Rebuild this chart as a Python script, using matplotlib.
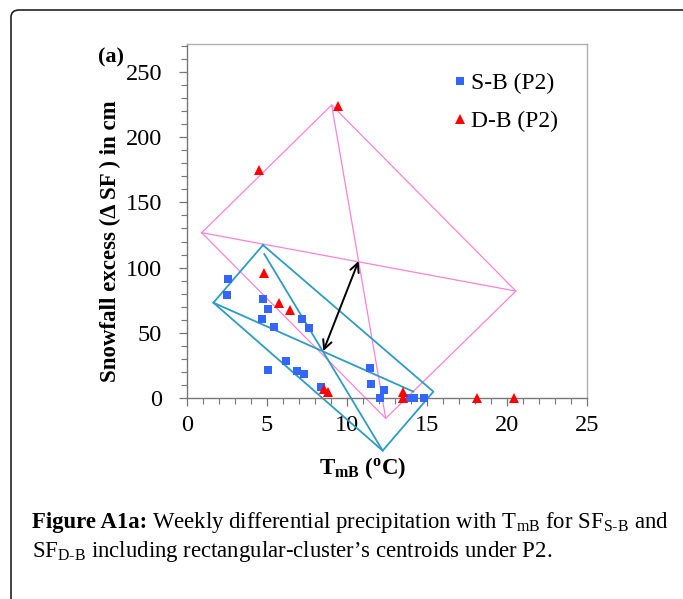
import matplotlib
matplotlib.use("Agg")
import matplotlib.pyplot as plt
from matplotlib.lines import Line2D
from matplotlib.patches import FancyBboxPatch
from matplotlib.ticker import MultipleLocator

plt.rcParams['font.family'] = ['Liberation Serif', 'DejaVu Serif']
plt.rcParams['mathtext.fontset'] = 'custom'
plt.rcParams['mathtext.rm'] = 'Liberation Serif'
plt.rcParams['mathtext.it'] = 'Liberation Serif:italic'
plt.rcParams['mathtext.bf'] = 'Liberation Serif:bold'

# ---- data ----
sb_x = [2.58, 2.52, 4.73, 5.06, 4.71, 5.46, 7.19, 7.65, 6.19, 5.06, 6.85, 7.31,
        8.35, 11.44, 11.5, 12.31, 12.06, 13.94, 14.2, 14.79]
sb_y = [91.3, 78.7, 75.7, 68.5, 60.6, 54.4, 60.6, 53.4, 28.6, 21.5, 20.7, 18.4,
        8.7, 22.7, 10.5, 6.1, 0, 0, 0, 0]
db_x = [4.5, 9.42, 4.83, 5.75, 6.44, 8.56, 8.83, 13.48, 13.52, 18.1, 20.44]
db_y = [174.8, 223.9, 95.6, 72.6, 67.5, 6.6, 4.6, 4.9, 0, 0, 0]

# D-B cluster quadrilateral (left, top, right, bottom) and its diagonals
db_quad_x = [0.92, 9.04, 20.56, 12.42]
db_quad_y = [126.8, 224.7, 82.0, -15.6]
# S-B cluster rectangle (top, right, bottom, left)
sb_rect_x = [4.75, 15.4, 12.23, 1.65]
sb_rect_y = [117.3, 4.9, -40.4, 73.1]
sb_diag1_x = [4.83, 12.23]
sb_diag1_y = [110.4, -40.4]
sb_diag2_x = [1.65, 14.15]
sb_diag2_y = [73.1, 4.9]
# arrow between centroids
arrow_from = (8.52, 36.0)
arrow_to = (10.72, 105.0)

x_ticks = [0, 5, 10, 15, 20, 25]
y_ticks = [0, 50, 100, 150, 200, 250]

W, H = 683, 599
fig = plt.figure(figsize=(W / 100, H / 100), dpi=100)

# outer rounded frame
box = FancyBboxPatch((11 / W, 1 - 640 / H), 700 / W, 630 / H,
                     boxstyle="round,pad=0,rounding_size=0.012",
                     transform=fig.transFigure, fill=False,
                     edgecolor='#222222', linewidth=1.2)
fig.patches.append(box)

ax = fig.add_axes([187 / W, 1 - 398 / H, 400 / W, 354 / H])
ax.set_xlim(0, 25)
ax.set_ylim(0, 271.5)

pink = '#ff80d8'
cyan = '#2b9dc4'
# pink quadrilateral
qx = db_quad_x + [db_quad_x[0]]
qy = db_quad_y + [db_quad_y[0]]
ax.plot(qx, qy, color=pink, lw=0.9, clip_on=False, zorder=2)
ax.plot([db_quad_x[0], db_quad_x[2]], [db_quad_y[0], db_quad_y[2]], color=pink, lw=0.9, clip_on=False, zorder=2)
ax.plot([db_quad_x[1], db_quad_x[3]], [db_quad_y[1], db_quad_y[3]], color=pink, lw=0.9, clip_on=False, zorder=2)
# cyan rectangle
rx = sb_rect_x + [sb_rect_x[0]]
ry = sb_rect_y + [sb_rect_y[0]]
ax.plot(rx, ry, color=cyan, lw=1.3, clip_on=False, zorder=2)
ax.plot(sb_diag1_x, sb_diag1_y, color=cyan, lw=1.3, clip_on=False, zorder=2)
ax.plot(sb_diag2_x, sb_diag2_y, color=cyan, lw=1.3, clip_on=False, zorder=2)

ax.annotate('', xy=arrow_to, xytext=arrow_from,
            arrowprops=dict(arrowstyle='<->', color='black', lw=1.4,
                            mutation_scale=16, shrinkA=0, shrinkB=0), zorder=4)

ax.plot(sb_x, sb_y, 's', color='#3366ff', markersize=5.2, markeredgewidth=0,
        clip_on=False, zorder=5)
ax.plot(db_x, db_y, '^', color='#ff0000', markersize=7, markeredgewidth=0,
        clip_on=False, zorder=5)

# axes styling
ax.set_xticks(x_ticks)
ax.set_yticks(y_ticks)
ax.xaxis.set_minor_locator(MultipleLocator(1))
ax.yaxis.set_minor_locator(MultipleLocator(10))
ax.tick_params(axis='both', which='major', direction='out', length=6, width=0.9,
               color='#777777', labelsize=17.5, labelcolor='black')
ax.tick_params(axis='both', which='minor', direction='out', length=4, width=0.8,
               color='#777777')
ax.tick_params(axis='x', pad=6)
ax.tick_params(axis='y', pad=12)
for s in ['left', 'bottom']:
    ax.spines[s].set_color('#777777')
    ax.spines[s].set_linewidth(1.0)
for s in ['top', 'right']:
    ax.spines[s].set_color('#b0b0b0')
    ax.spines[s].set_linewidth(1.0)

ax.set_ylabel('Snowfall excess (\u0394 SF ) in cm', fontsize=16.5, fontweight='bold',
              va='center', ha='center')
ax.yaxis.set_label_coords((110 - 187) / 400, (398 - 241) / 354)
ax.set_xlabel(r'T$_{\mathbf{mB}}$ ($^{\mathbf{o}}$C)', fontsize=16.5, fontweight='bold',
              va='center', ha='center')
ax.xaxis.set_label_coords((363 - 187) / 400, (398 - 468) / 354)
fig.text(111 / W, 1 - 57 / H, '(a)', fontsize=16, fontweight='bold', ha='center', va='center')

handles = [Line2D([], [], marker='s', color='#3366ff', ls='none', markersize=5.2, markeredgewidth=0),
           Line2D([], [], marker='^', color='#ff0000', ls='none', markersize=7, markeredgewidth=0)]
fig.legend(handles, ['S-B (P2)', 'D-B (P2)'], loc='upper left',
           bbox_to_anchor=(439 / W, 1 - 61 / H), frameon=False, fontsize=17,
           handlelength=0.8, handletextpad=0.05, labelspacing=0.7, borderpad=0)

# caption
t1 = fig.text(32 / W, 1 - 528 / H, 'Figure A1a:', fontsize=16.4, fontweight='bold',
              ha='left', va='baseline')
fig.canvas.draw()
bb = t1.get_window_extent(renderer=fig.canvas.get_renderer())
fig.text(bb.x1 / W + 5 / W, 1 - 528 / H,
         r'Weekly differential precipitation with T$_{\mathrm{mB}}$ for SF$_{\text{S-B}}$ and',
         fontsize=16.4, ha='left', va='baseline')
fig.text(32 / W, 1 - 557 / H,
         r"SF$_{\text{D-B}}$ including rectangular-cluster’s centroids under P2.",
         fontsize=16.4, ha='left', va='baseline')

fig.savefig('out.png', dpi=100)
